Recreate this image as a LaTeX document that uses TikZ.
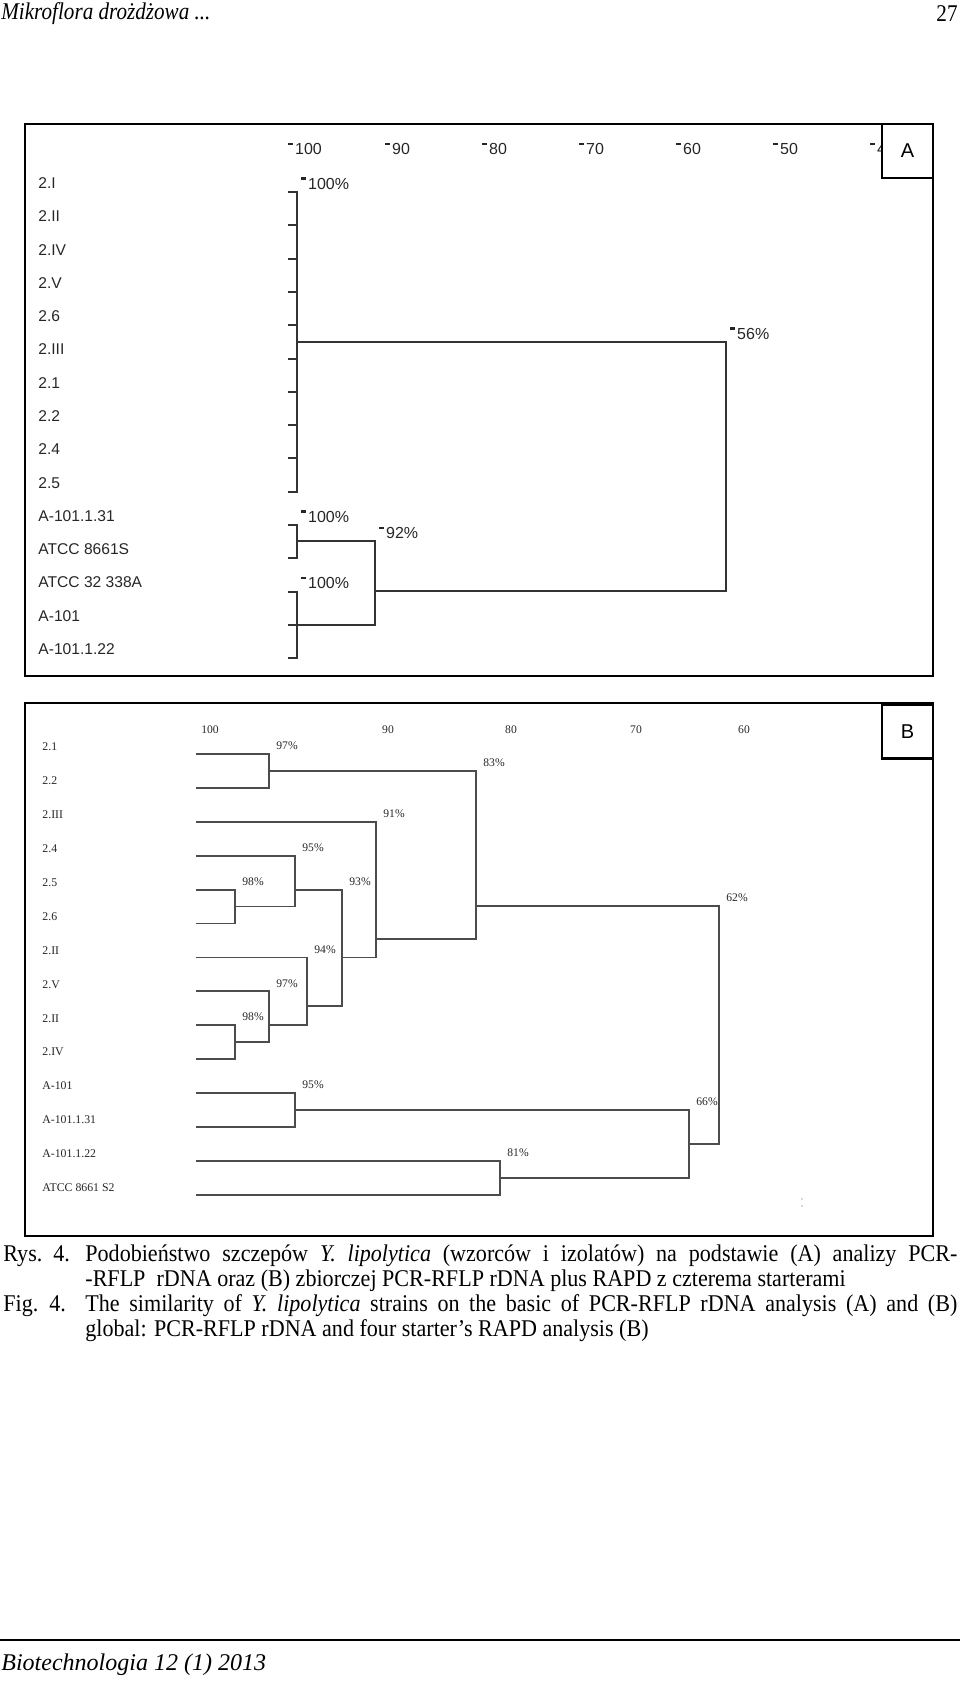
\documentclass[tikz,border=0pt]{standalone}
\usepackage{fontspec}
\setmainfont{Liberation Serif}
\newfontfamily\sansA{Liberation Sans}
\newfontfamily\capfont[FakeStretch=0.92]{Liberation Serif}
\newfontfamily\headfont[FakeStretch=0.88]{Liberation Serif}
\usetikzlibrary{positioning}
\newcommand{\tickmk}{\rule[1.1ex]{2.4pt}{1.2pt}\hspace{1pt}}

\tikzset{
  frame/.style={draw=black, line width=1.2pt},
  branchA/.style={draw=black!80, line width=1pt},
  branchB/.style={draw=black!70, line width=0.9pt},
  leafA/.style={font=\sansA\fontsize{7.8}{9}\selectfont, text=black!85, anchor=west, inner sep=0pt},
  leafB/.style={font=\fontsize{5.9}{7}\selectfont, text=black!85, anchor=west, inner sep=0pt},
  axA/.style={font=\sansA\fontsize{8}{9}\selectfont, text=black!85, anchor=west, inner sep=0pt},
  axB/.style={font=\fontsize{5.8}{7}\selectfont, text=black!85, inner sep=0pt},
  pctA/.style={font=\sansA\fontsize{8}{9}\selectfont, text=black!85, anchor=west, inner sep=0pt, xshift=2pt, yshift=4.3pt},
  pctB/.style={font=\fontsize{5.8}{7}\selectfont, text=black!85, anchor=west, inner sep=0pt, xshift=3.5pt, yshift=4pt},
  panelbox/.style={draw=black, line width=1.1pt, fill=white, minimum width=25.5pt, minimum height=27pt, inner sep=0pt, font=\sansA\fontsize{10}{12}\selectfont},
  caption/.style={anchor=west, inner sep=0pt, font=\capfont\fontsize{12}{14}\selectfont},
  runhead/.style={inner sep=0pt, font=\headfont\itshape\fontsize{12}{14}\selectfont},
}

\begin{document}
\begin{tikzpicture}[x=0.5pt, y=-0.5pt]
\useasboundingbox (0,0) rectangle (960,1681);

\node[runhead, anchor=west] (head) at (1,14) {Mikroflora drożdżowa ...};
\node[runhead, anchor=east, font=\headfont\fontsize{12}{14}\selectfont] (pagenum) at (958,14) {27};

\draw[frame] (25,124) rectangle (933,676);
\foreach \v [count=\i from 0] in {100,90,80,70,60,50,40}
  \node[axA] (xa\v) at ({288+97*\i},149) {\tickmk\v};
\node[panelbox] (boxA) at (907.5,151) {A};

\foreach \lbl [count=\i from 0] in {2.I,2.II,2.IV,2.V,2.6,2.III,2.1,2.2,2.4,2.5,A-101.1.31,ATCC 8661S,ATCC 32 338A,A-101,A-101.1.22}{
  \node[leafA] (la\i) at (38,{183+33.3*\i}) {\lbl};
  \coordinate (ta\i) at (288,{192+33.3*\i});
}
\coordinate (ja100a) at (297,342);
\coordinate (ja100b) at (297,541.4);
\coordinate (ja100c) at (297,624.9);
\coordinate (ja92) at (375,591);
\coordinate (ja56) at (726,466);
\foreach \i in {0,...,9}
  \draw[branchA] (ta\i) -| (ja100a);
\foreach \c/\p in {ta10/ja100b,ta11/ja100b,ta12/ja100c,ta13/ja100c,ta14/ja100c,ja100b/ja92,ja100c/ja92,ja100a/ja56,ja92/ja56}
  \draw[branchA] (\c) -| (\p);
\foreach \p/\t/\v in {ja100a/ta0/100,ja100b/ta10/100,ja100c/ta12/100,ja92/ja100b/92,ja56/ja100a/56}
  \node[pctA] (pa-\p) at (\p |- \t) {\tickmk\v\%};

\draw[frame] (25,703) rectangle (933,1236);
\node[panelbox] (boxB) at (907.5,731.5) {B};
\foreach \v/\x in {100/210,90/388,80/511,70/636,60/744}
  \node[axB] (xb\v) at (\x,730) {\v};

\foreach \lbl [count=\i from 0] in {2.1,2.2,2.III,2.4,2.5,2.6,2.II,2.V,2.II,2.IV,A-101,A-101.1.31,A-101.1.22,ATCC 8661 S2}{
  \node[leafB] (lb\i) at (42,{747+33.9*\i}) {\lbl};
  \coordinate (bl\i) at (196,{754+33.9*\i});
}
\coordinate (jb97a) at (269,771);
\coordinate (jb98a) at (235,906.5);
\coordinate (jb95a) at (295,889.6);
\coordinate (jb98b) at (235,1042);
\coordinate (jb97b) at (269,1025.2);
\coordinate (jb94) at (307,1006);
\coordinate (jb93) at (342,957.4);
\coordinate (jb91) at (376,939);
\coordinate (jb83) at (476,906);
\coordinate (jb95b) at (295,1110);
\coordinate (jb81) at (500,1178);
\coordinate (jb66) at (689,1144);
\coordinate (jb62) at (719,1025);
\foreach \c/\p in {bl0/jb97a,bl1/jb97a,bl4/jb98a,bl5/jb98a,bl3/jb95a,jb98a/jb95a,bl8/jb98b,bl9/jb98b,bl7/jb97b,jb98b/jb97b,bl6/jb94,jb97b/jb94,jb95a/jb93,jb94/jb93,bl2/jb91,jb93/jb91,jb97a/jb83,jb91/jb83,bl10/jb95b,bl11/jb95b,bl12/jb81,bl13/jb81,jb95b/jb66,jb81/jb66,jb83/jb62,jb66/jb62}
  \draw[branchB] (\c) -| (\p);
\foreach \p/\t/\v in {jb97a/bl0/97,jb83/jb97a/83,jb91/bl2/91,jb95a/bl3/95,jb98a/bl4/98,jb93/jb95a/93,jb62/jb83/62,jb94/bl6/94,jb97b/bl7/97,jb98b/bl8/98,jb95b/bl10/95,jb66/jb95b/66,jb81/bl12/81}
  \node[pctB] (pb-\p) at (\p |- \t) {\v\%};
\fill[black!30] (802,1199) circle (0.4pt) (802,1206) circle (0.4pt);

\node[caption] (rys) at (3,1256) {Rys.\ \ 4.};
\node[caption] (capPL1) at (85,1256) {\makebox[436pt][s]{Podobieństwo szczepów \textit{Y. lipolytica} (wzorców i izolatów) na podstawie (A) analizy PCR-}};
\node[caption] (capPL2) at (85,1281) {-RFLP\ \ rDNA oraz (B) zbiorczej PCR-RFLP rDNA plus RAPD z czterema starterami};
\node[caption] (fig) at (3,1306) {Fig.\ \ 4.};
\node[caption] (capEN1) at (85,1306) {\makebox[436pt][s]{The similarity of \textit{Y. lipolytica} strains on the basic of PCR-RFLP rDNA analysis (A) and (B)}};
\node[caption] (capEN2) at (85,1331) {global: PCR-RFLP rDNA and four starter’s RAPD analysis (B)};

\draw[line width=1pt] (0,1640) -- (960,1640);
\node[inner sep=0pt, anchor=west, font=\itshape\fontsize{12}{14}\selectfont] (foot) at (1,1665) {Biotechnologia 12 (1) 2013};
\end{tikzpicture}
\end{document}
